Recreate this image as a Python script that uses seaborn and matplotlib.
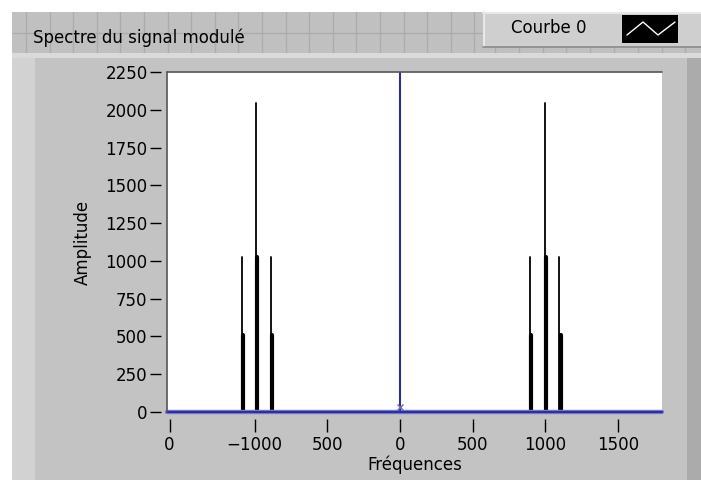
import numpy as np
import pandas as pd
import matplotlib
matplotlib.use("Agg")
import matplotlib.pyplot as plt
import seaborn as sns
from matplotlib.patches import Rectangle
from matplotlib.lines import Line2D

# ---------------- data ----------------
peak_freqs = [-1090, -990, -890, 895, 995, 1095]
peak_high = [1024, 2048, 1024, 1024, 2048, 1024]
peak_low = [512, 1024, 512, 512, 1024, 512]
x_ticks = [-1585, -1000, -500, 0, 500, 1000, 1500]
x_tick_labels = ["0", "\u22121000", "500", "0", "500", "1000", "1500"]
y_ticks = [0, 250, 500, 750, 1000, 1250, 1500, 1750, 2000, 2250]
x_range = (-1603, 1803)
y_range = (0, 2250)
cursor_x = 0
cursor_y = 0
title = "Spectre du signal modulé"
legend_label = "Courbe 0"
xlabel = "Fréquences"
ylabel = "Amplitude"

# ---------------- style ----------------
sns.set_style("white")
plt.rcParams['font.family'] = ['DejaVu Sans']
plt.rcParams['text.color'] = 'black'
FS = 12
W, H = 701, 480
GRAY = '#c3c3c3'
BLUE = '#2e2e9e'

fig = plt.figure(figsize=(W / 100, H / 100), dpi=100, facecolor=GRAY)


def px_rect(x0, y0, x1, y1, **kw):
    r = Rectangle((x0 / W, 1 - y1 / H), (x1 - x0) / W, (y1 - y0) / H,
                  transform=fig.transFigure, **kw)
    fig.add_artist(r)
    return r


def px_line(xs, ys, **kw):
    l = Line2D([x / W for x in xs], [1 - y / H for y in ys],
               transform=fig.transFigure, **kw)
    fig.add_artist(l)
    return l


# panel decorations
px_rect(0, 0, W, 12, facecolor='white', edgecolor='none', zorder=0)
px_rect(0, 0, 12, H, facecolor='white', edgecolor='none', zorder=0)
px_rect(12, 58, 35, H, facecolor='#d2d2d2', edgecolor='none', zorder=0)
px_rect(687, 58, W, H, facecolor='#ababab', edgecolor='none', zorder=0)
# title bar with grid
px_rect(12, 12, W, 53, facecolor='#c0c0c0', edgecolor='none', zorder=0)
for gx in np.arange(26, 483, 23.6):
    px_line([gx, gx], [12, 53], color='#acacac', lw=1, zorder=0.5)
px_line([12, 483], [33, 33], color='#acacac', lw=1, zorder=0.5)
for gx in np.arange(495, 700, 23.8):
    px_line([gx, gx], [47, 53], color='#acacac', lw=1, zorder=0.5)
px_rect(12, 53, W, 58, facecolor='#dadada', edgecolor='none', zorder=0.6)
# legend box
px_rect(483, 12, W, 46, facecolor='#cfcfcf', edgecolor='none', zorder=1)
px_line([483, W], [13, 13], color='#e8e8e8', lw=1.5, zorder=1.1)
px_line([484, 484], [12, 46], color='#e8e8e8', lw=1.5, zorder=1.1)
px_line([483, W], [46.5, 46.5], color='#8c8c8c', lw=1.2, zorder=1.1)
px_rect(622, 15, 678, 43, facecolor='black', edgecolor='none', zorder=1.2)
px_line([627, 643, 658, 675], [35, 22, 35, 22], color='white', lw=1, zorder=1.3)
fig.text(511 / W, 1 - 28 / H, legend_label, fontsize=FS, va='center', ha='left',
         color='black')
fig.text(33 / W, 1 - 38 / H, title, fontsize=FS, va='center', ha='left',
         color='black')

# ---------------- axes ----------------
ax_l, ax_r, ax_t, ax_b = 167, 662, 72, 412
ax = fig.add_axes([ax_l / W, 1 - ax_b / H, (ax_r - ax_l) / W, (ax_b - ax_t) / H])
ax.set_facecolor('white')
ax.set_xlim(*x_range)
ax.set_ylim(*y_range)

hz_per_px = (x_range[1] - x_range[0]) / (ax_r - ax_l)
off = 1.4 * hz_per_px

thin_rows, thick_rows = [], []
for i, (f, hi, lo) in enumerate(zip(peak_freqs, peak_high, peak_low)):
    thin_rows += [(i, f, 0), (i, f, hi)]
    thick_rows += [(i, f + off, 0), (i, f + off, lo)]
thin = pd.DataFrame(thin_rows, columns=['peak', 'freq', 'amp'])
thick = pd.DataFrame(thick_rows, columns=['peak', 'freq', 'amp'])

sns.lineplot(data=thin, x='freq', y='amp', units='peak', estimator=None,
             sort=False, color='black', lw=1.3, ax=ax, legend=False)
sns.lineplot(data=thick, x='freq', y='amp', units='peak', estimator=None,
             sort=False, color='black', lw=3.0, ax=ax, legend=False)

# cursor lines
ax.axvline(cursor_x, color=BLUE, lw=1.5, zorder=5)
ax.axhline(cursor_y, color='#8080d0', lw=3.2, zorder=4, clip_on=False)
ax.axhline(cursor_y, color=BLUE, lw=1.6, zorder=5, clip_on=False)
ax.plot([cursor_x], [cursor_y + 30], marker='x', color='#6a6ab8', ms=4.5, mew=1.0,
        zorder=6, clip_on=False)

# frame
for sp in ['right', 'bottom', 'left', 'top']:
    ax.spines[sp].set_color('none')
ax.spines['left'].set_position(('outward', 4))
ax.spines['bottom'].set_position(('outward', 5))
ax.plot([0, 1], [1, 1], transform=ax.transAxes, color='#555555', lw=1.2,
        clip_on=False, zorder=7)
ax.plot([0, 0], [0, 1], transform=ax.transAxes, color='#555555', lw=1.2,
        clip_on=False, zorder=7)

ax.set_xticks(x_ticks)
ax.set_xticklabels(x_tick_labels)
ax.set_yticks(y_ticks)
ax.tick_params(axis='y', direction='out', length=8, width=1, pad=2,
               color='black', labelcolor='black', labelsize=FS, left=True)
ax.tick_params(axis='x', direction='out', length=9, width=1, pad=3,
               color='black', labelcolor='black', labelsize=FS, bottom=True)
ax.set_xlabel(xlabel, fontsize=FS, color='black')
ax.set_ylabel(ylabel, fontsize=FS, color='black')
ax.xaxis.set_label_coords(0.5, -(465 - ax_b) / (ax_b - ax_t))
ax.yaxis.set_label_coords(-(ax_l - 83) / (ax_r - ax_l), 0.5)
ax.xaxis.label.set_va('center')
ax.yaxis.label.set_va('center')
ax.grid(False)

fig.savefig('out.png', dpi=100, facecolor=GRAY)
